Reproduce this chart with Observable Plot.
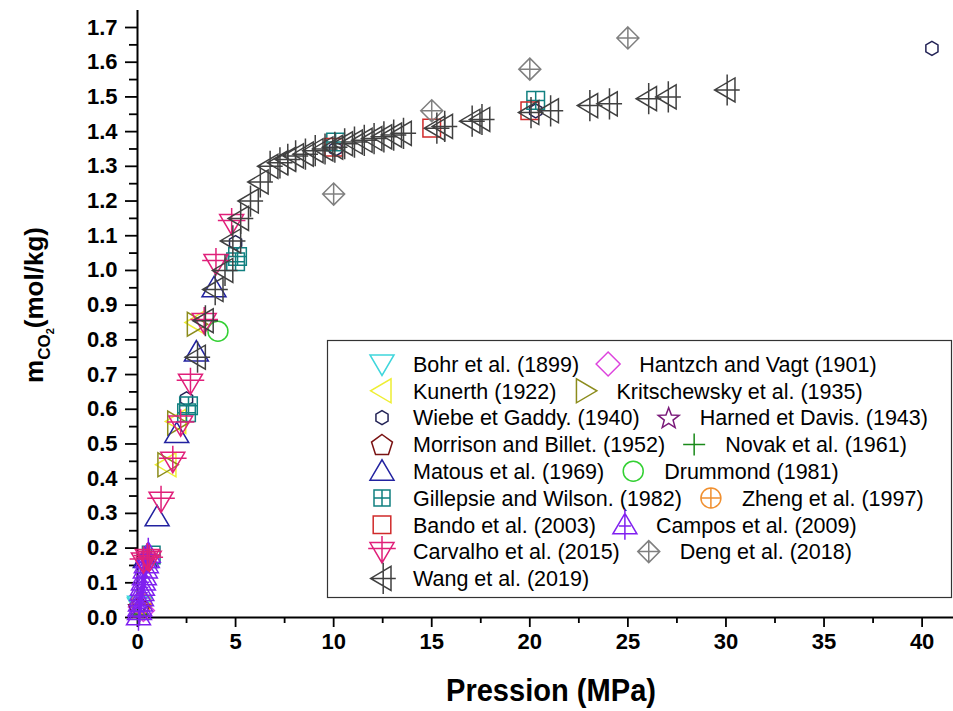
<!DOCTYPE html>
<html><head><meta charset="utf-8">
<script src="https://cdn.jsdelivr.net/npm/d3@7"></script>
<script src="https://cdn.jsdelivr.net/npm/@observablehq/plot@0.6"></script>
<style>body{margin:0;background:#fff}#chart{position:relative;width:953px;height:711px}</style>
</head><body><div id="chart"></div>
<script>
// ---- data: [pressure MPa, m CO2 mol/kg] ----
const seriesNames = [
  "Bohr et al. (1899)", "Hantzch and Vagt (1901)",
  "Kunerth (1922)", "Kritschewsky et al. (1935)",
  "Wiebe et Gaddy. (1940)", "Harned et Davis. (1943)",
  "Morrison and Billet. (1952)", "Novak et al. (1961)",
  "Matous et al. (1969)", "Drummond (1981)",
  "Gillepsie and Wilson. (1982)", "Zheng et al. (1997)",
  "Bando et al. (2003)", "Campos et al. (2009)",
  "Carvalho et al. (2015)", "Deng et al. (2018)",
  "Wang et al. (2019)"
];
const bohr = [[0.1, 0.03], [0.1, 0.035]];
const hantzch = [[0.1, 0.03], [0.3, 0.02]];
const kunerth = [[1.5, 0.44], [2.0, 0.565], [3.0, 0.85]];
const kritschewsky = [[1.5, 0.44], [2.0, 0.56], [3.0, 0.845]];
const wiebe = [[2.5, 0.63], [5.0, 1.08], [10.1, 1.35], [20.3, 1.46], [40.5, 1.64]];
const harned = [[0.1, 0.03]];
const morrison = [[0.1, 0.03]];
const novak = [[0.05, 0.005], [0.1, 0.01]];
const matous = [[0.4, 0.17], [1.0, 0.29], [2.0, 0.53], [3.0, 0.765], [3.9, 0.95]];
const drummond = [[4.1, 0.825]];
const gillespie = [[0.7, 0.18], [2.5, 0.59], [2.6, 0.61], [5.0, 1.025], [5.1, 1.04], [10.1, 1.37], [20.3, 1.49]];
const zheng = [[0.2, 0.04]];
const bando = [[10.0, 1.355], [15.0, 1.41], [20.0, 1.46]];
const campos = [[0.05, 0.005], [0.1, 0.02], [0.12, 0.03], [0.15, 0.045], [0.2, 0.06], [0.22, 0.075], [0.25, 0.09],
                [0.3, 0.105], [0.35, 0.12], [0.4, 0.14], [0.45, 0.155], [0.5, 0.17], [0.55, 0.185]];
const carvalho = [[0.3, 0.16], [0.5, 0.17], [0.6, 0.165], [1.2, 0.335], [1.8, 0.45], [2.2, 0.555], [2.7, 0.675],
                  [3.4, 0.85], [4.0, 1.02], [4.8, 1.135]];
const deng = [[10.0, 1.22], [15.0, 1.46], [20.0, 1.58], [25.0, 1.67]];
const wang = [[3.0, 0.75], [3.4, 0.855], [3.9, 0.945], [4.4, 1.0], [4.8, 1.085], [5.2, 1.15], [5.7, 1.2],
              [6.2, 1.255], [6.7, 1.3], [7.2, 1.31], [7.6, 1.32], [8.0, 1.33], [8.5, 1.335], [9.0, 1.345],
              [9.5, 1.35], [10.0, 1.355], [10.5, 1.365], [11.0, 1.37], [11.5, 1.375], [12.0, 1.38],
              [12.5, 1.385], [13.0, 1.39], [13.5, 1.395], [15.2, 1.41], [15.6, 1.415], [17.0, 1.43],
              [17.5, 1.435], [20.0, 1.455], [21.0, 1.46], [23.0, 1.475], [24.0, 1.48], [26.0, 1.495],
              [27.0, 1.5], [30.0, 1.52]];
const seriesData = [bohr, hantzch, kunerth, kritschewsky, wiebe, harned, morrison, novak, matous,
                    drummond, gillespie, zheng, bando, campos, carvalho, deng, wang];
const xTicks = [0, 5, 10, 15, 20, 25, 30, 35, 40];
const yTicks = [0, 0.1, 0.2, 0.3, 0.4, 0.5, 0.6, 0.7, 0.8, 0.9, 1.0, 1.1, 1.2, 1.3, 1.4, 1.5, 1.6, 1.7];

// ---- styles ----
const colors = ["#3fd6dc", "#dd44dd", "#eeee33", "#8c8c1c", "#222255", "#7a1a7a", "#7a1212", "#1a8a1a",
                "#2222a0", "#33d033", "#118080", "#f09030", "#d02a2a", "#8020f0", "#e0207a", "#808080", "#404040"];

function R(size) { return Math.sqrt(size / Math.PI); }
function poly(ctx, pts) { ctx.moveTo(pts[0][0], pts[0][1]); for (let k = 1; k < pts.length; k++) ctx.lineTo(pts[k][0], pts[k][1]); ctx.closePath(); }
function seg(ctx, x1, y1, x2, y2) { ctx.moveTo(x1, y1); ctx.lineTo(x2, y2); }
const triDown = {draw(c, s) { const r = R(s); poly(c, [[-r, -0.75*r], [r, -0.75*r], [0, 0.95*r]]); }};
const triUp = {draw(c, s) { const r = R(s); poly(c, [[-r, 0.75*r], [r, 0.75*r], [0, -0.95*r]]); }};
const triLeft = {draw(c, s) { const r = R(s); poly(c, [[0.75*r, -r], [0.75*r, r], [-0.95*r, 0]]); }};
const triRight = {draw(c, s) { const r = R(s); poly(c, [[-0.75*r, -r], [-0.75*r, r], [0.95*r, 0]]); }};
const diamond = {draw(c, s) { const r = R(s); poly(c, [[0, -r], [r, 0], [0, r], [-r, 0]]); }};
const hexagon = {draw(c, s) { const r = R(s); poly(c, d3.range(6).map(k => [r*Math.cos(-Math.PI/2 + k*Math.PI/3), r*Math.sin(-Math.PI/2 + k*Math.PI/3)])); }};
const pentagon = {draw(c, s) { const r = R(s); poly(c, d3.range(5).map(k => [r*Math.cos(-Math.PI/2 + k*2*Math.PI/5), r*Math.sin(-Math.PI/2 + k*2*Math.PI/5) + 0.1*r])); }};
const star = {draw(c, s) { const r = R(s); poly(c, d3.range(10).map(k => { const rr = k % 2 ? 0.42*r : r; const a = -Math.PI/2 + k*Math.PI/5; return [rr*Math.cos(a), rr*Math.sin(a) + 0.1*r]; })); }};
const plus = {draw(c, s) { const r = R(s); seg(c, -r, 0, r, 0); seg(c, 0, -r, 0, r); }};
const circle = {draw(c, s) { const r = R(s); c.moveTo(r, 0); c.arc(0, 0, r, 0, 2*Math.PI); }};
const square = {draw(c, s) { const r = R(s)*0.8; poly(c, [[-r, -r], [r, -r], [r, r], [-r, r]]); }};
const squarePlus = {draw(c, s) { const r = R(s)*0.8; poly(c, [[-r, -r], [r, -r], [r, r], [-r, r]]); seg(c, -r, 0, r, 0); seg(c, 0, -r, 0, r); }};
const circlePlus = {draw(c, s) { const r = R(s); c.moveTo(r, 0); c.arc(0, 0, r, 0, 2*Math.PI); seg(c, -r, 0, r, 0); seg(c, 0, -r, 0, r); }};
const triUpLine = {draw(c, s) { const r = R(s); poly(c, [[-r, 0.75*r], [r, 0.75*r], [0, -0.95*r]]); seg(c, 0, -1.3*r, 0, 1.25*r); seg(c, -0.5*r, 0.1*r, 0.5*r, 0.1*r); }};
const triDownPlus = {draw(c, s) { const r = R(s); poly(c, [[-r, -0.75*r], [r, -0.75*r], [0, 0.95*r]]); seg(c, 0, -1.3*r, 0, 0.95*r); seg(c, -1.15*r, -0.25*r, 1.15*r, -0.25*r); }};
const diamondPlus = {draw(c, s) { const r = R(s); poly(c, [[0, -r], [r, 0], [0, r], [-r, 0]]); seg(c, -r, 0, r, 0); seg(c, 0, -r, 0, r); }};
const triLeftPlus = {draw(c, s) { const r = R(s); poly(c, [[0.75*r, -r], [0.75*r, r], [-0.95*r, 0]]); seg(c, 0.1*r, -1.3*r, 0.1*r, 1.3*r); seg(c, -0.95*r, 0, 1.15*r, 0); }};
const symbols = [triDown, diamond, triLeft, triRight, hexagon, star, pentagon, plus, triUp, circle,
                 squarePlus, circlePlus, square, triUpLine, triDownPlus, diamondPlus, triLeftPlus];
const radii = [12, 11, 12, 12, 7, 11, 11, 10, 12, 10, 11, 10, 11, 12, 12, 11, 12];
const legendRadii = [12, 12, 12, 12, 7, 11, 11, 11, 12, 10, 10, 10, 11, 12, 12, 11, 12];

const sansFont = "'Liberation Sans', Arial, sans-serif";

const dotMarks = seriesNames.map((name, i) => Plot.dot(seriesData[i], {
  x: d => d[0], y: d => d[1], symbol: symbols[i], r: radii[i],
  stroke: colors[i], strokeWidth: 1.5, fill: "none"
}));

const plot = Plot.plot({
  width: 953, height: 711,
  marginLeft: 137, marginRight: 0, marginTop: 10, marginBottom: 94,
  style: {background: "#fff", overflow: "visible"},
  x: {domain: [0, 41.6]},
  y: {domain: [0, 1.749]},
  marks: [
    Plot.axisX({ticks: d3.range(2.5, 41.6, 5), tickSize: 6, tickFormat: () => "", strokeWidth: 1.8, label: null}),
    Plot.axisX({ticks: xTicks, tickSize: 10, tickPadding: 6, strokeWidth: 1.8, label: null,
      fontSize: 22, fontWeight: "bold", fontFamily: sansFont, fill: "#000", tickFormat: d3.format("d")}),
    Plot.axisY({ticks: d3.range(0.05, 1.749, 0.1), tickSize: 8, tickFormat: () => "", strokeWidth: 1.8, label: null}),
    Plot.axisY({ticks: yTicks, tickSize: 12, tickPadding: 8, strokeWidth: 1.8, label: null,
      fontSize: 22, fontWeight: "bold", fontFamily: sansFont, fill: "#000", tickFormat: d3.format(".1f")}),
    Plot.ruleY([0], {strokeWidth: 2}),
    Plot.ruleX([0], {strokeWidth: 2}),
    ...dotMarks
  ]
});
document.getElementById("chart").appendChild(plot);

const svg = d3.select(plot);
// axis titles
svg.append("text").attr("x", 551).attr("y", 701).attr("text-anchor", "middle")
  .attr("font-family", sansFont).attr("font-weight", "bold").attr("font-size", 31).attr("fill", "#000")
  .attr("textLength", 210).attr("lengthAdjust", "spacingAndGlyphs")
  .text("Pression (MPa)");
const yl = svg.append("text").attr("transform", "translate(43,305) rotate(-90)").attr("text-anchor", "middle")
  .attr("font-family", sansFont).attr("font-weight", "bold").attr("font-size", 26).attr("fill", "#000");
yl.append("tspan").text("m");
yl.append("tspan").attr("font-size", 17).attr("dy", 7).text("CO");
yl.append("tspan").attr("font-size", 11).attr("dy", 4).text("2");
yl.append("tspan").attr("dy", -11).text("(mol/kg)");

// legend
const lg = svg.append("g");
lg.append("rect").attr("x", 327.5).attr("y", 340.5).attr("width", 624).attr("height", 257)
  .attr("fill", "#fff").attr("stroke", "#333").attr("stroke-width", 1.2);
const pairs = [[0, 1], [2, 3], [4, 5], [6, 7], [8, 9], [10, 11], [12, 13], [14, 15], [16]];
pairs.forEach((pair, row) => {
  const cy = 364 + row * 26.8;
  let x = 382;
  pair.forEach((i, j) => {
    if (j === 1) x += 29;
    lg.append("path").attr("d", d3.symbol(symbols[i], Math.PI * legendRadii[i] ** 2)())
      .attr("transform", `translate(${x},${cy})`).attr("fill", "none").attr("stroke", colors[i]).attr("stroke-width", 1.5);
    const t = lg.append("text").attr("x", x + 31).attr("y", cy).attr("dy", "0.36em").attr("text-anchor", "start")
      .attr("font-family", sansFont).attr("font-size", 21.5).attr("fill", "#000").text(seriesNames[i]);
    x = x + 31 + t.node().getComputedTextLength();
  });
});
</script></body></html>
